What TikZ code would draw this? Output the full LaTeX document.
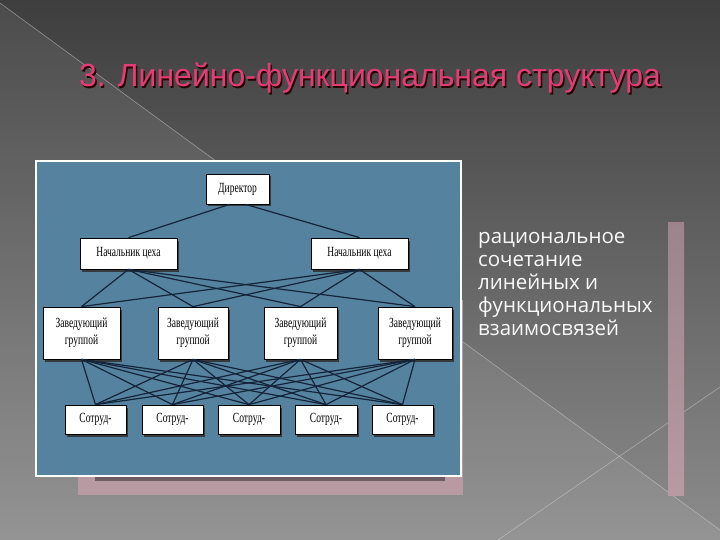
\documentclass[tikz,border=0pt]{standalone}
\usepackage{fontspec}
\usepackage{graphicx}
\setmainfont{Liberation Serif}
\newfontfamily\titlefont{Liberation Sans}
\newfontfamily\bodyfont{Open Sans}
\usetikzlibrary{shadows}
\definecolor{bgtop}{HTML}{3E3E3E}
\definecolor{bgbot}{HTML}{8C8C8C}
\definecolor{panel}{HTML}{55839F}
\definecolor{mauve}{HTML}{B89AA3}
\definecolor{mauvetop}{HTML}{9C848C}
\definecolor{titlepink}{HTML}{E43C76}
\definecolor{wire}{HTML}{14243A}
\tikzset{
  orgbox/.style={draw=black, line width=0.8pt, fill=white, inner sep=1pt,
    drop shadow={shadow xshift=2pt, shadow yshift=-2.5pt, fill=black!80, opacity=0.9},
    font=\fontsize{14}{17}\selectfont, align=center},
  wirel/.style={draw=wire, line width=1.2pt},
  deco/.style={draw=white!70!gray, line width=0.6pt, opacity=0.5}
}
\newcommand{\nar}[1]{\scalebox{0.68}[1]{#1}}
\begin{document}
\begin{tikzpicture}[x=1pt,y=-1pt]
\useasboundingbox (0,0) rectangle (720,540);
% background
\shade[top color=bgtop, bottom color=bgbot] (0,0) rectangle (720,540);
\fill[white, opacity=0.07] (0,3) -- (720,530) -- (720,540) -- (0,540) -- cycle;
\draw[deco] (0,3) -- (720,530);
\draw[deco] (498,540) -- (720,387);
% title
\node[text=black!85!red, font=\titlefont\fontsize{32}{38}\selectfont] at (371.5,79.5) {3. Линейно-функциональная структура};
\node[text=titlepink, font=\titlefont\fontsize{32}{38}\selectfont] (title) at (370,78) {3. Линейно-функциональная структура};
% mauve decorations
\fill[mauve] (78,300) rectangle (462.5,495);
\fill[black!40!mauve] (95,476) rectangle (445,481);
\shade[top color=mauvetop, bottom color=mauve] (668,223) rectangle (684,495);
% panel
\filldraw[fill=panel, draw=white, line width=2pt] (36,161) rectangle (461,476);
% nodes
\node[orgbox, minimum width=63pt, minimum height=30pt] (dir) at (237.5,189) {\nar{Директор}};
\node[orgbox, minimum width=97pt, minimum height=31pt] (c1) at (128.5,253.5) {\nar{Начальник цеха}};
\node[orgbox, minimum width=97pt, minimum height=31pt] (c2) at (359.5,253.5) {\nar{Начальник цеха}};
\node[orgbox, minimum width=77pt, minimum height=52pt] (z1) at (81.5,333) {\nar{Заведующий}\\\nar{группой}};
\node[orgbox, minimum width=70pt, minimum height=52pt] (z2) at (193,333) {\nar{Заведующий}\\\nar{группой}};
\node[orgbox, minimum width=73pt, minimum height=52pt] (z3) at (300.5,333) {\nar{Заведующий}\\\nar{группой}};
\node[orgbox, minimum width=74pt, minimum height=52pt] (z4) at (415,333) {\nar{Заведующий}\\\nar{группой}};
\node[orgbox, minimum width=61pt, minimum height=29pt] (s1) at (95.5,419.5) {\nar{Сотруд-}};
\node[orgbox, minimum width=61pt, minimum height=29pt] (s2) at (172.5,419.5) {\nar{Сотруд-}};
\node[orgbox, minimum width=62pt, minimum height=29pt] (s3) at (249,419.5) {\nar{Сотруд-}};
\node[orgbox, minimum width=62pt, minimum height=29pt] (s4) at (326,419.5) {\nar{Сотруд-}};
\node[orgbox, minimum width=61pt, minimum height=29pt] (s5) at (402.5,419.5) {\nar{Сотруд-}};
% connectors
\path[wirel] ([xshift=-8pt]dir.south) -- (c1.north);
\path[wirel] ([xshift=8pt]dir.south) -- (c2.north);
\foreach \c in {c1,c2}{
  \foreach \z in {z1,z2,z3,z4}{
    \path[wirel] (\c.south) -- (\z.north);
  }
}
\foreach \z in {z1,z2,z3,z4}{
  \foreach \s in {s1,s2,s3,s4,s5}{
    \path[wirel] (\z.south) -- (\s.north);
  }
}
% right text
\node[anchor=base west, text=white!95!gray, align=left, inner sep=0pt,
  font=\bodyfont\fontsize{20.5}{23}\selectfont] (body) at (478,335)
  {рациональное\\сочетание\\линейных и\\функциональных\\взаимосвязей};
\end{tikzpicture}
\end{document}
